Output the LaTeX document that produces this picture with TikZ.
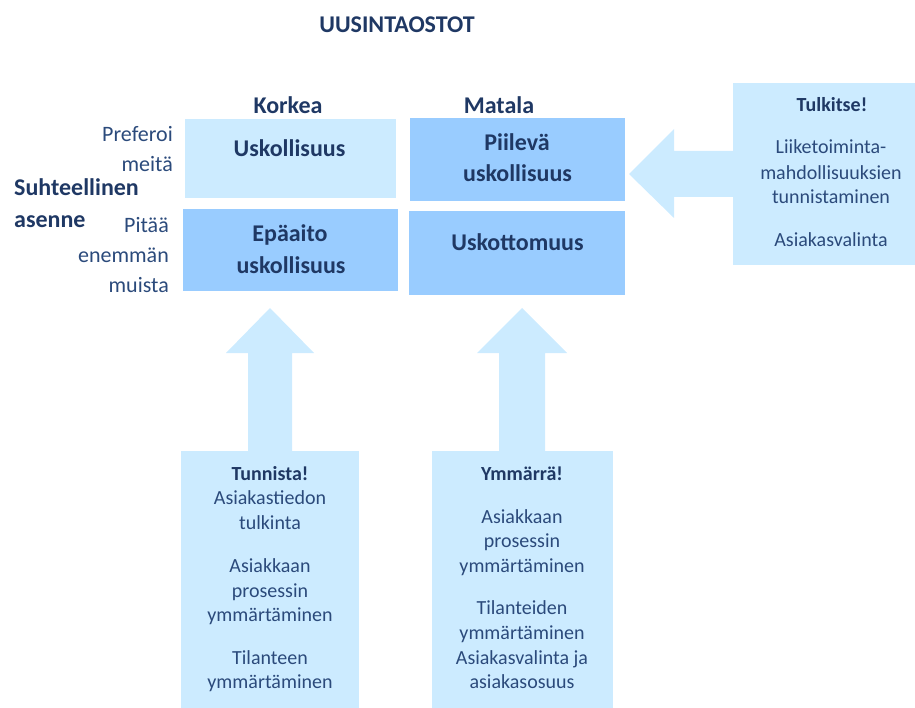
\documentclass[tikz,border=0pt]{standalone}
\usepackage{fontspec}
\setmainfont{Carlito}
\definecolor{navy}{HTML}{1F3864}
\definecolor{txtblue}{HTML}{2B4A7B}
\definecolor{lightbox}{HTML}{CCEBFF}
\definecolor{midbox}{HTML}{99CCFF}
\tikzset{
  cell/.style={anchor=north west, inner sep=0pt, outer sep=0pt, draw=none},
  headtxt/.style={font=\fontsize{24}{29}\selectfont\bfseries, text=navy, inner sep=0pt, anchor=base},
  sidetxt/.style={font=\fontsize{22}{27}\selectfont, text=txtblue, inner sep=0pt},
  boxtxt/.style={font=\fontsize{20}{24}\selectfont, text=txtblue, inner sep=0pt, anchor=base},
  boxhead/.style={font=\fontsize{20}{24}\selectfont\bfseries, text=navy, inner sep=0pt, anchor=base},
  blockarrow/.style={fill=lightbox, draw=none}
}
\begin{document}
\begin{tikzpicture}[x=1pt,y=-1pt]
\useasboundingbox (0,0) rectangle (915,708);

% block arrows
\fill[blockarrow] (629,174) -- (674,129) -- (674,151) -- (733,151) -- (733,197) -- (674,197) -- (674,218) -- cycle;
\fill[blockarrow] (270,308) -- (314,353) -- (292,353) -- (292,451) -- (248,451) -- (248,353) -- (226,353) -- cycle;
\fill[blockarrow] (522,308) -- (567,353) -- (545,353) -- (545,451) -- (499,451) -- (499,353) -- (477,353) -- cycle;

% boxes
\node[cell, fill=lightbox, minimum width=211pt, minimum height=79pt] (uskbox) at (185,119) {};
\node[cell, fill=midbox, minimum width=215pt, minimum height=82pt] (epabox) at (183,209) {};
\node[cell, fill=midbox, minimum width=215pt, minimum height=83pt] (piibox) at (410,118) {};
\node[cell, fill=midbox, minimum width=216pt, minimum height=84pt] (uskobox) at (409,211) {};
\node[cell, fill=lightbox, minimum width=182pt, minimum height=182pt] (tulkbox) at (733,83) {};
\node[cell, fill=lightbox, minimum width=178pt, minimum height=257pt] (tunnbox) at (181,451) {};
\node[cell, fill=lightbox, minimum width=181pt, minimum height=257pt] (ymmbox) at (432,451) {};

% headings
\node[headtxt] (title) at (397,33) {UUSINTAOSTOT};
\node[headtxt] (korkea) at (288,114) {Korkea};
\node[headtxt] (matala) at (499,114) {Matala};
\node[headtxt, anchor=base west] (suht) at (14,196) {Suhteellinen};
\node[headtxt, anchor=base west] (asenne) at (14,228) {asenne};

% box labels
\node[headtxt] (usk) at (289.5,157) {Uskollisuus};
\node[headtxt] (epa1) at (290,242) {Epäaito};
\node[headtxt] (epa2) at (291,274) {uskollisuus};
\node[headtxt] (pii1) at (517,151) {Piilevä};
\node[headtxt] (pii2) at (517.5,182) {uskollisuus};
\node[headtxt] (uskot) at (517.5,251) {Uskottomuus};

% side labels
\node[sidetxt, anchor=base east] (pref1) at (173,142) {Preferoi};
\node[sidetxt, anchor=base east] (pref2) at (173,172) {meitä};
\node[sidetxt, anchor=base east] (pit1) at (169,233) {Pitää};
\node[sidetxt, anchor=base east] (pit2) at (169,263) {enemmän};
\node[sidetxt, anchor=base east] (pit3) at (169,293) {muista};

% Tulkitse box
\node[boxhead] (tulkh) at (832,112) {Tulkitse!};
\foreach \t/\y [count=\i] in {Liiketoiminta-/154, mahdollisuuksien/180, tunnistaminen/203.5, Asiakasvalinta/247}
  \node[boxtxt] (tulk\i) at (831,\y) {\t};

% Tunnista box
\node[boxhead] (tunnh) at (270,480) {Tunnista!};
\foreach \t/\y [count=\i] in {Asiakastiedon/504.5, tulkinta/529, Asiakkaan/572.5, prosessin/597, ymmärtäminen/621, Tilanteen/664.5, ymmärtäminen/688.5}
  \node[boxtxt] (tunn\i) at (270,\y) {\t};

% Ymmärrä box
\node[boxhead] (ymmh) at (522,480) {Ymmärrä!};
\foreach \t/\y [count=\i] in {Asiakkaan/523, prosessin/547.5, ymmärtäminen/572, Tilanteiden/614.5, ymmärtäminen/639.5, Asiakasvalinta ja/664, asiakasosuus/688.5}
  \node[boxtxt] (ymm\i) at (522,\y) {\t};
\end{tikzpicture}
\end{document}
